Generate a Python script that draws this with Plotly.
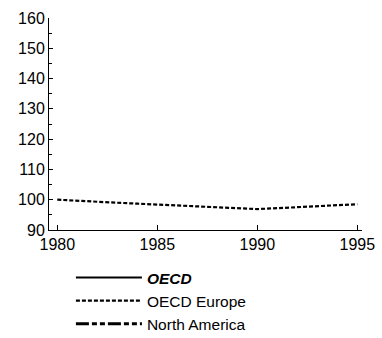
import plotly.graph_objects as go

years = list(range(1980, 1996))
oecd_europe = [100.0, 99.6, 99.3, 99.0, 98.7, 98.4, 98.1, 97.8, 97.4, 97.1,
               96.9, 97.2, 97.6, 97.9, 98.2, 98.5]
# OECD and North America: no visible values in the chart (legend entries only)
oecd_years = [None]
oecd = [None]
na_years = [None]
north_america = [None]

x_ticks = [1980, 1985, 1990, 1995]
y_ticks = [90, 100, 110, 120, 130, 140, 150, 160]

FONT = "Liberation Sans, Arial, sans-serif"

fig = go.Figure()
fig.add_trace(go.Scatter(x=oecd_years, y=oecd, mode="lines",
                         name="<b><i>OECD</i></b>",
                         line=dict(color="black", width=2, dash="solid")))
fig.add_trace(go.Scatter(x=years, y=oecd_europe, mode="lines",
                         name="OECD Europe",
                         line=dict(color="black", width=2.2, dash="4px,2px")))
fig.add_trace(go.Scatter(x=na_years, y=north_america, mode="lines",
                         name="North America",
                         line=dict(color="black", width=3,
                                   dash="13px,3px,5px,3px,5px,3px")))

fig.update_layout(
    width=382, height=338,
    margin=dict(l=49, r=20, t=18, b=108, autoexpand=False),
    paper_bgcolor="white", plot_bgcolor="white",
    font=dict(family=FONT, size=16, color="black"),
    showlegend=True,
    legend=dict(x=0.07, y=-0.146, xanchor="left", yanchor="top",
                bgcolor="rgba(0,0,0,0)", itemwidth=66,
                font=dict(family=FONT, size=15.5, color="black"),
                tracegroupgap=0),
)
fig.update_xaxes(range=[1979.585, 1995.235], tickmode="array", tickvals=x_ticks,
                 ticktext=[str(v) for v in x_ticks],
                 ticks="inside", ticklen=5, tickwidth=1, tickcolor="black",
                 showline=True, linecolor="black", linewidth=1,
                 showgrid=False, zeroline=False,
                 tickfont=dict(family=FONT, size=16, color="black"))
fig.update_yaxes(range=[90, 160], tickmode="array", tickvals=y_ticks,
                 ticks="inside", ticklen=4, tickwidth=1, tickcolor="black",
                 showline=True, linecolor="black", linewidth=1,
                 showgrid=False, zeroline=False,
                 minor=dict(dtick=5, ticks="inside", ticklen=2.5, tickcolor="black",
                            showgrid=False),
                 tickfont=dict(family=FONT, size=16, color="black"))

fig.write_html("out.html")
